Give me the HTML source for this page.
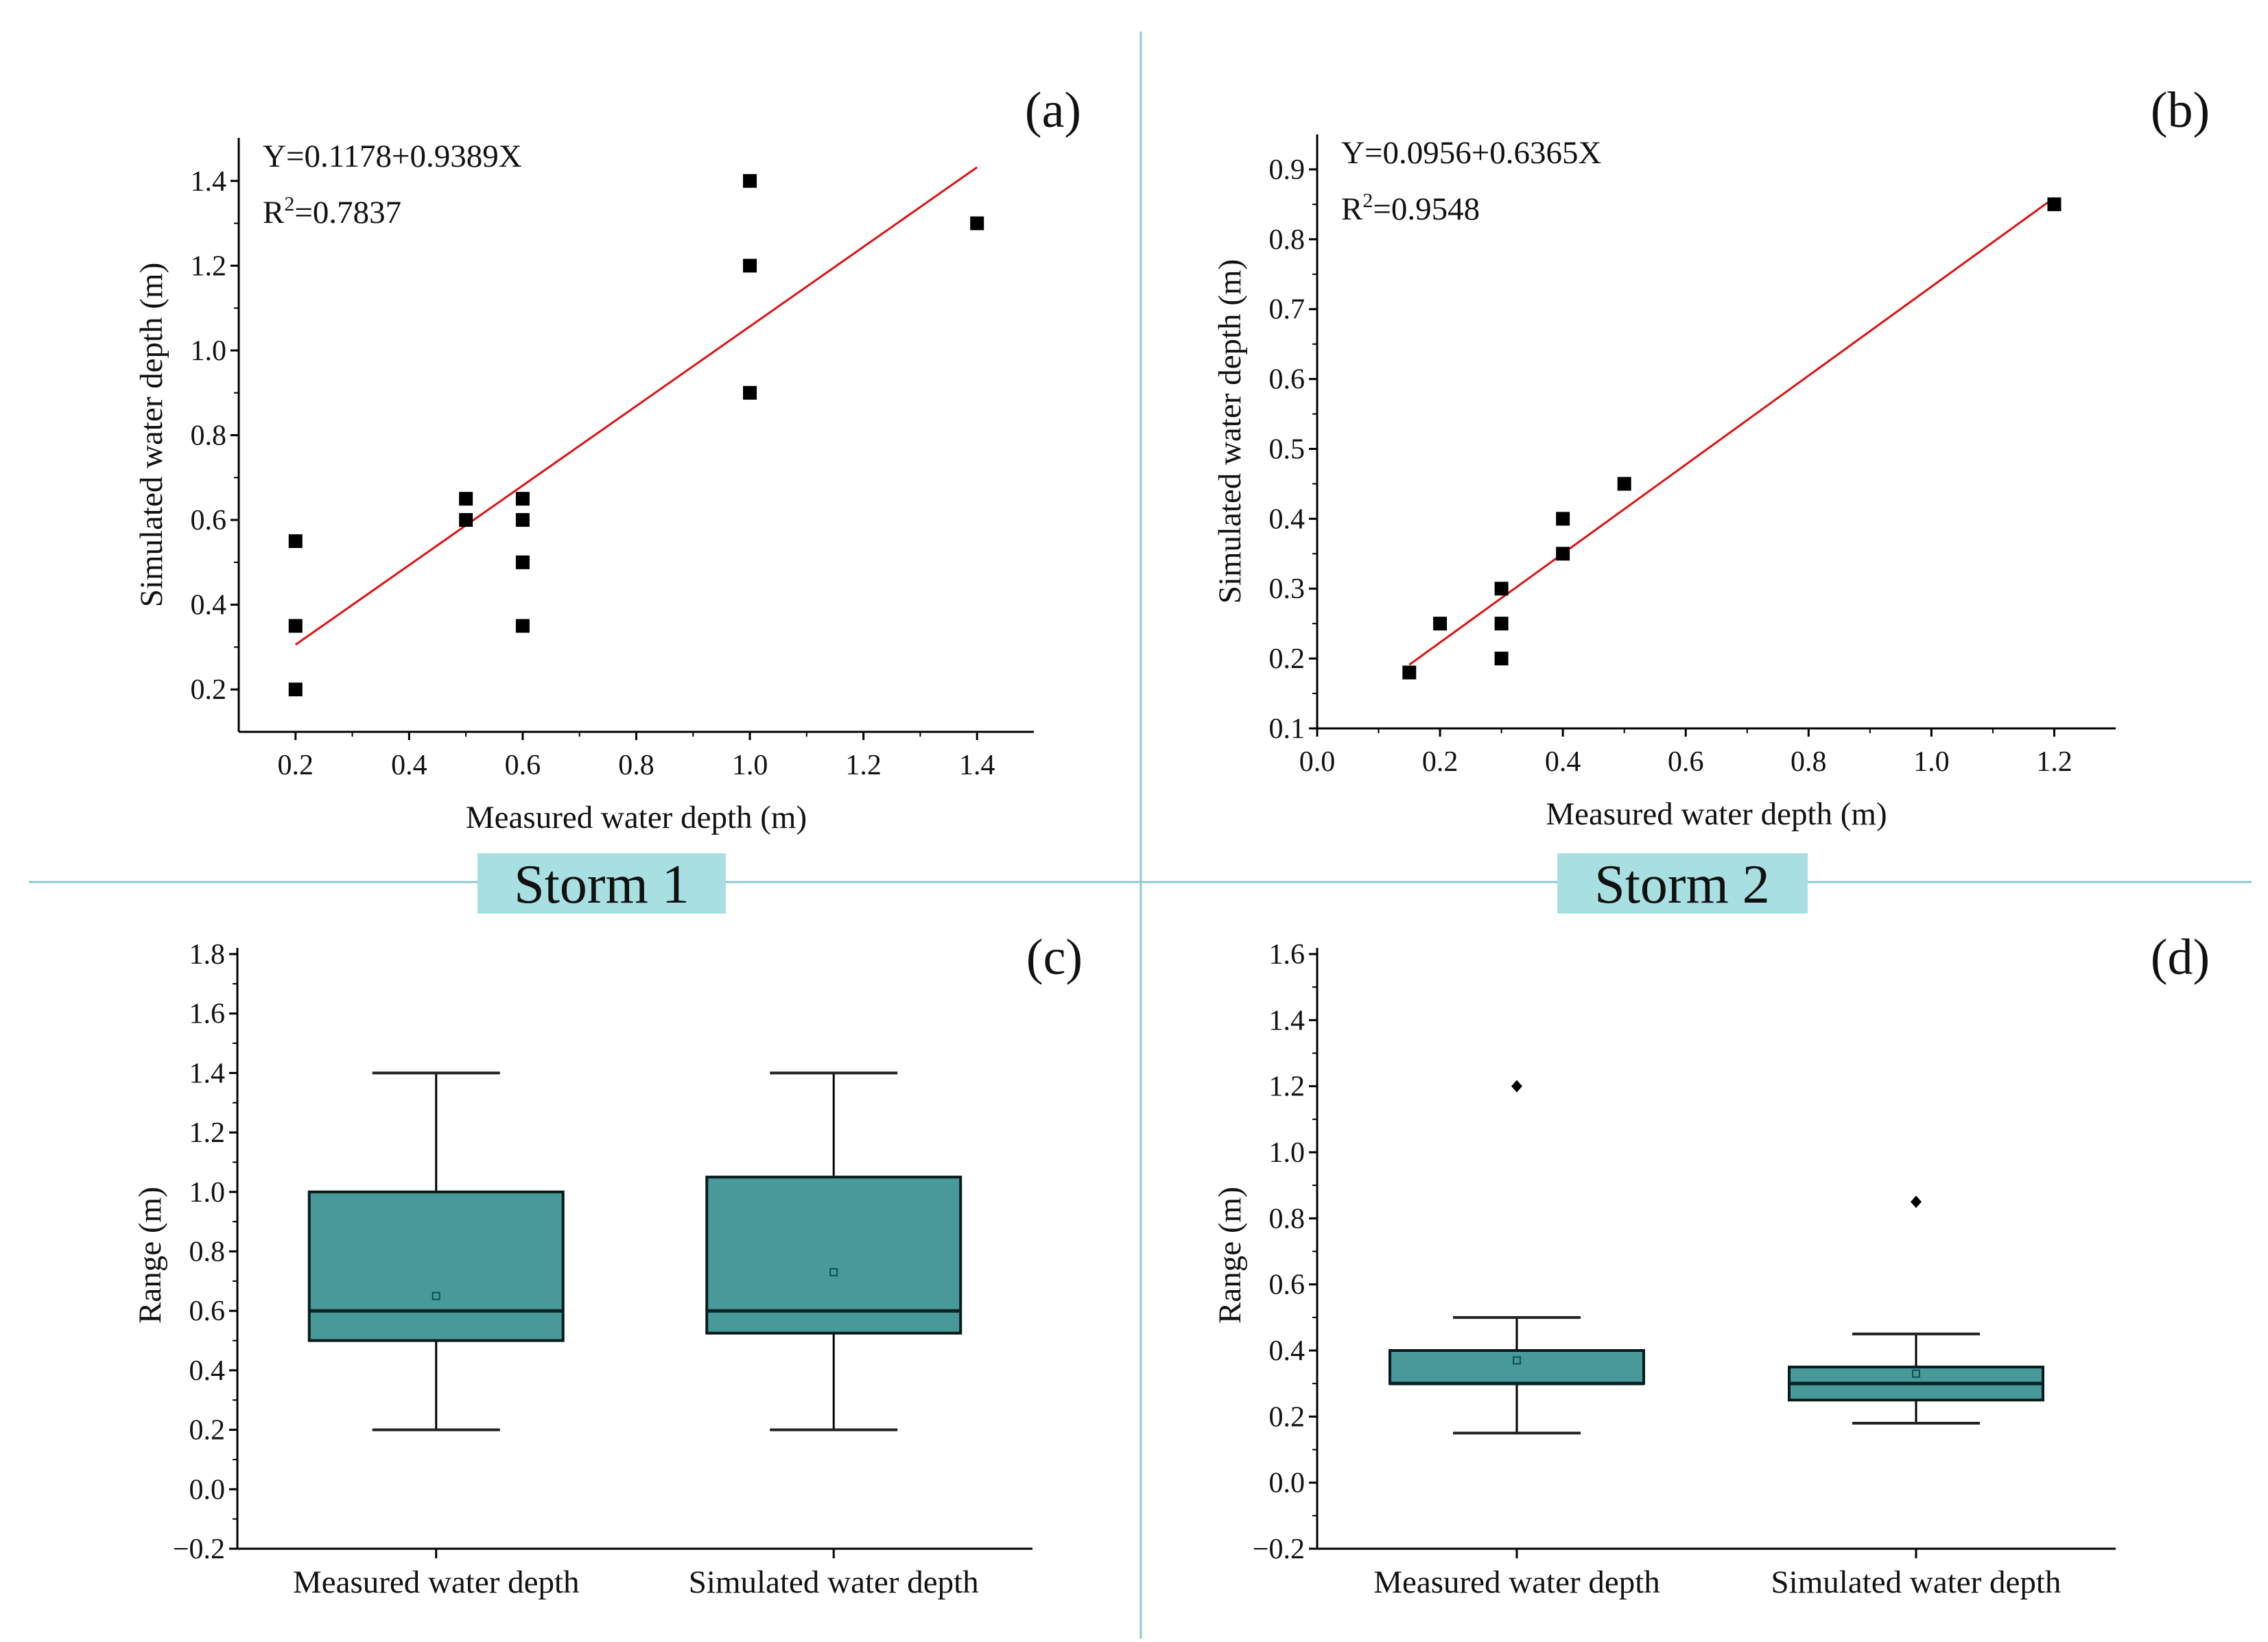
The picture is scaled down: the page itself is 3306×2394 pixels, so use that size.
<!DOCTYPE html>
<html><head><meta charset="utf-8"><style>
body{margin:0;background:#fff}
svg text{font-family:"Liberation Serif",serif;fill:#111}
</style></head><body>
<svg id="fig" width="3306" height="2389" viewBox="0 0 3306 2389" xmlns="http://www.w3.org/2000/svg">
<rect width="3306" height="2389" fill="#fff"/>
<line x1="1663" y1="46" x2="1663" y2="2389" stroke="#8cc8d0" stroke-width="3"/>
<line x1="42" y1="1286" x2="3282" y2="1286" stroke="#8cc8d0" stroke-width="3"/>
<g><rect x="696" y="1244" width="362" height="88" fill="#a8e0e2"/><text x="877" y="1316" font-size="80" text-anchor="middle">Storm 1</text></g>
<g><rect x="2270" y="1244" width="365" height="88" fill="#a8e0e2"/><text x="2452" y="1316" font-size="80" text-anchor="middle">Storm 2</text></g>
<g id="plots"></g>
</svg>
<script>
// Panel (a) data
const aX = [0.2,0.2,0.2,0.5,0.5,0.6,0.6,0.6,0.6,1.0,1.0,1.0,1.4];
const aY = [0.55,0.35,0.2,0.65,0.6,0.65,0.6,0.5,0.35,1.4,1.2,0.9,1.3];
const aFit = [0.1178,0.9389];
const aFitRange = [0.2,1.4];
const aXTicks = ["0.2","0.4","0.6","0.8","1.0","1.2","1.4"];
const aYTicks = ["0.2","0.4","0.6","0.8","1.0","1.2","1.4"];
// Panel (b) data
const bX = [0.15,0.2,0.3,0.3,0.3,0.4,0.4,0.5,1.2];
const bY = [0.18,0.25,0.3,0.25,0.2,0.4,0.35,0.45,0.85];
const bFit = [0.0956,0.6365];
const bFitRange = [0.15,1.2];
const bXTicks = ["0.0","0.2","0.4","0.6","0.8","1.0","1.2"];
const bYTicks = ["0.1","0.2","0.3","0.4","0.5","0.6","0.7","0.8","0.9"];
// Panel (c) box stats: min,q1,median,q3,max,mean
const boxCats = ["Measured water depth","Simulated water depth"];
const cStats = [[0.2,0.5,0.6,1.0,1.4,0.65],[0.2,0.525,0.6,1.05,1.4,0.73]];
const cOutliers = [[],[]];
const cYTicks = ["-0.2","0.0","0.2","0.4","0.6","0.8","1.0","1.2","1.4","1.6","1.8"];
// Panel (d)
const dStats = [[0.15,0.3,0.3,0.4,0.5,0.37],[0.18,0.25,0.3,0.35,0.45,0.33]];
const dOutliers = [[1.2],[0.85]];
const dYTicks = ["-0.2","0.0","0.2","0.4","0.6","0.8","1.0","1.2","1.4","1.6"];

const NS="http://www.w3.org/2000/svg";
const root=document.getElementById('plots');
function mk(tag,attrs,parent){const e=document.createElementNS(NS,tag);for(const k in attrs)e.setAttribute(k,attrs[k]);(parent||root).appendChild(e);return e;}
function txt(s,attrs,parent){const e=mk('text',attrs,parent);e.textContent=s;return e;}
function lin(d0,d1,r0,r1){return v=>r0+(v-d0)*(r1-r0)/(d1-d0);}

function axesY(g,x0,y0,y1,ys,ticks,minor){
  const ax=mk('line',{x1:x0,y1:y0,x2:x0,y2:y1,stroke:'#000','stroke-width':3},g);
  
  ticks.forEach((t,i)=>{const v=parseFloat(t);const y=ys(v);
    mk('line',{x1:x0-12,y1:y,x2:x0,y2:y,stroke:'#000','stroke-width':3},g);
    const lab=txt(t.replace('-','\u2212'),{x:x0-18,y:y+14,'font-size':42,'text-anchor':'end'},g);
    
    if(minor!==undefined&&i<ticks.length-1){const ym=ys(v+minor);mk('line',{x1:x0-7,y1:ym,x2:x0,y2:ym,stroke:'#000','stroke-width':2},g);}
  });
}
function axesX(g,y0,x0,x1,xs,ticks,minor){
  const ax=mk('line',{x1:x0,y1:y0,x2:x1,y2:y0,stroke:'#000','stroke-width':3},g);
  
  ticks.forEach((t,i)=>{const v=parseFloat(t);const x=xs(v);
    mk('line',{x1:x,y1:y0,x2:x,y2:y0+12,stroke:'#000','stroke-width':3},g);
    const lab=txt(t,{x:x,y:y0+62,'font-size':42,'text-anchor':'middle'},g);
    
    if(minor!==undefined){const xm=xs(v+minor);if(xm<x1)mk('line',{x1:xm,y1:y0,x2:xm,y2:y0+7,stroke:'#000','stroke-width':2},g);
      const xl=xs(v-minor);if(i==0&&xl>x0)mk('line',{x1:xl,y1:y0,x2:xl,y2:y0+7,stroke:'#000','stroke-width':2},g);}
  });
}

function scatter(name,P,X,Y,fit,fr,xt,yt,xminor,yminor,label){
  const g=mk('g',{});
  const xs=lin(P.xd[0],P.xd[1],P.l,P.r), ys=lin(P.yd[0],P.yd[1],P.b,P.t);
  axesY(g,P.l,P.b,P.top,ys,yt,yminor);
  axesX(g,P.b,P.l,P.r,xs,xt,xminor);
  const fl=mk('line',{x1:xs(fr[0]),y1:ys(fit[0]+fit[1]*fr[0]),x2:xs(fr[1]),y2:ys(fit[0]+fit[1]*fr[1]),stroke:'#e01010','stroke-width':3},g);
  
  X.forEach((x,i)=>{const p=mk('rect',{x:xs(x)-10,y:ys(Y[i])-10,width:20,height:20,fill:'#000'},g);
    });
  const eq=txt('Y='+fit[0]+'+'+fit[1]+'X',{x:P.l+35,y:P.top+42,'font-size':47},g);
  
  const r2=txt('',{x:P.l+35,y:P.top+124,'font-size':47},g);
  
  r2.innerHTML='R<tspan dy="-18" font-size="30">2</tspan><tspan dy="18">='+P.r2+'</tspan>';
  const yt2=txt('Simulated water depth (m)',{transform:`translate(${P.l-112},${(P.b+P.top)/2}) rotate(-90)`,'font-size':47,'text-anchor':'middle'},g);
  
  const xt2=txt('Measured water depth (m)',{x:(P.l+P.r)/2,y:P.b+140,'font-size':47,'text-anchor':'middle'},g);
  
  const pl=txt(label,{x:P.lblx,y:185,'font-size':74,'text-anchor':'middle'},g);
  
}
scatter('panel-a',{l:348,r:1507,b:1067,top:201,t:202,xd:[0.1,1.5],yd:[0.1,1.5],r2:'0.7837',lblx:1535},aX,aY,aFit,aFitRange,aXTicks,aYTicks,0.1,0.1,'(a)');
scatter('panel-b',{l:1920,r:3084,b:1062,top:196,t:196,xd:[0,1.3],yd:[0.1,0.95],r2:'0.9548',lblx:3178},bX,bY,bFit,bFitRange,bXTicks,bYTicks,0.1,0.05,'(b)');

function boxplot(name,P,stats,outs,yt,label){
  const g=mk('g',{});
  const ys=lin(P.yd[0],P.yd[1],P.b,P.t);
  axesY(g,P.l,P.b,P.top,ys,yt,0.1);
  const ax=mk('line',{x1:P.l,y1:P.b,x2:P.r,y2:P.b,stroke:'#000','stroke-width':3},g);
  
  const step=(P.r-P.l)/2;
  stats.forEach((s,i)=>{const cx=P.l+step*(i+0.5);
    mk('line',{x1:cx,y1:P.b,x2:cx,y2:P.b+14,stroke:'#000','stroke-width':3},g);
    const cl=txt(boxCats[i],{x:cx,y:P.b+64,'font-size':47,'text-anchor':'middle'},g);
    
    const bg=mk('g',{},g);
    mk('line',{x1:cx,y1:ys(s[0]),x2:cx,y2:ys(s[4]),stroke:'#000','stroke-width':3},bg);
    mk('line',{x1:cx-93,y1:ys(s[0]),x2:cx+93,y2:ys(s[0]),stroke:'#222','stroke-width':4},bg);
    mk('line',{x1:cx-93,y1:ys(s[4]),x2:cx+93,y2:ys(s[4]),stroke:'#222','stroke-width':4},bg);
    mk('rect',{x:cx-185,y:ys(s[3]),width:370,height:ys(s[1])-ys(s[3]),fill:'#489a9a',stroke:'#0a1a1a','stroke-width':4},bg);
    mk('line',{x1:cx-185,y1:ys(s[2]),x2:cx+185,y2:ys(s[2]),stroke:'#0a2222','stroke-width':5},bg);
    mk('rect',{x:cx-5,y:ys(s[5])-5,width:10,height:10,fill:'none',stroke:'#0d5050','stroke-width':2},bg);
    outs[i].forEach(o=>{const d=mk('path',{d:`M${cx} ${ys(o)-9}L${cx+8} ${ys(o)}L${cx} ${ys(o)+9}L${cx-8} ${ys(o)}Z`,fill:'#000'},bg);
      });
  });
  const yt2=txt('Range (m)',{transform:`translate(${P.l-112},${(P.b+P.top)/2+10}) rotate(-90)`,'font-size':47,'text-anchor':'middle'},g);
  
  const pl=txt(label,{x:P.lblx,y:1420,'font-size':74,'text-anchor':'middle'},g);
  
}
boxplot('panel-c',{l:346,r:1505,b:2258,top:1382,t:1391,yd:[-0.2,1.8],lblx:1537},cStats,cOutliers,cYTicks,'(c)');
boxplot('panel-d',{l:1920,r:3084,b:2258,top:1382,t:1391,yd:[-0.2,1.6],lblx:3178},dStats,dOutliers,dYTicks,'(d)');
</script>
</body></html>
